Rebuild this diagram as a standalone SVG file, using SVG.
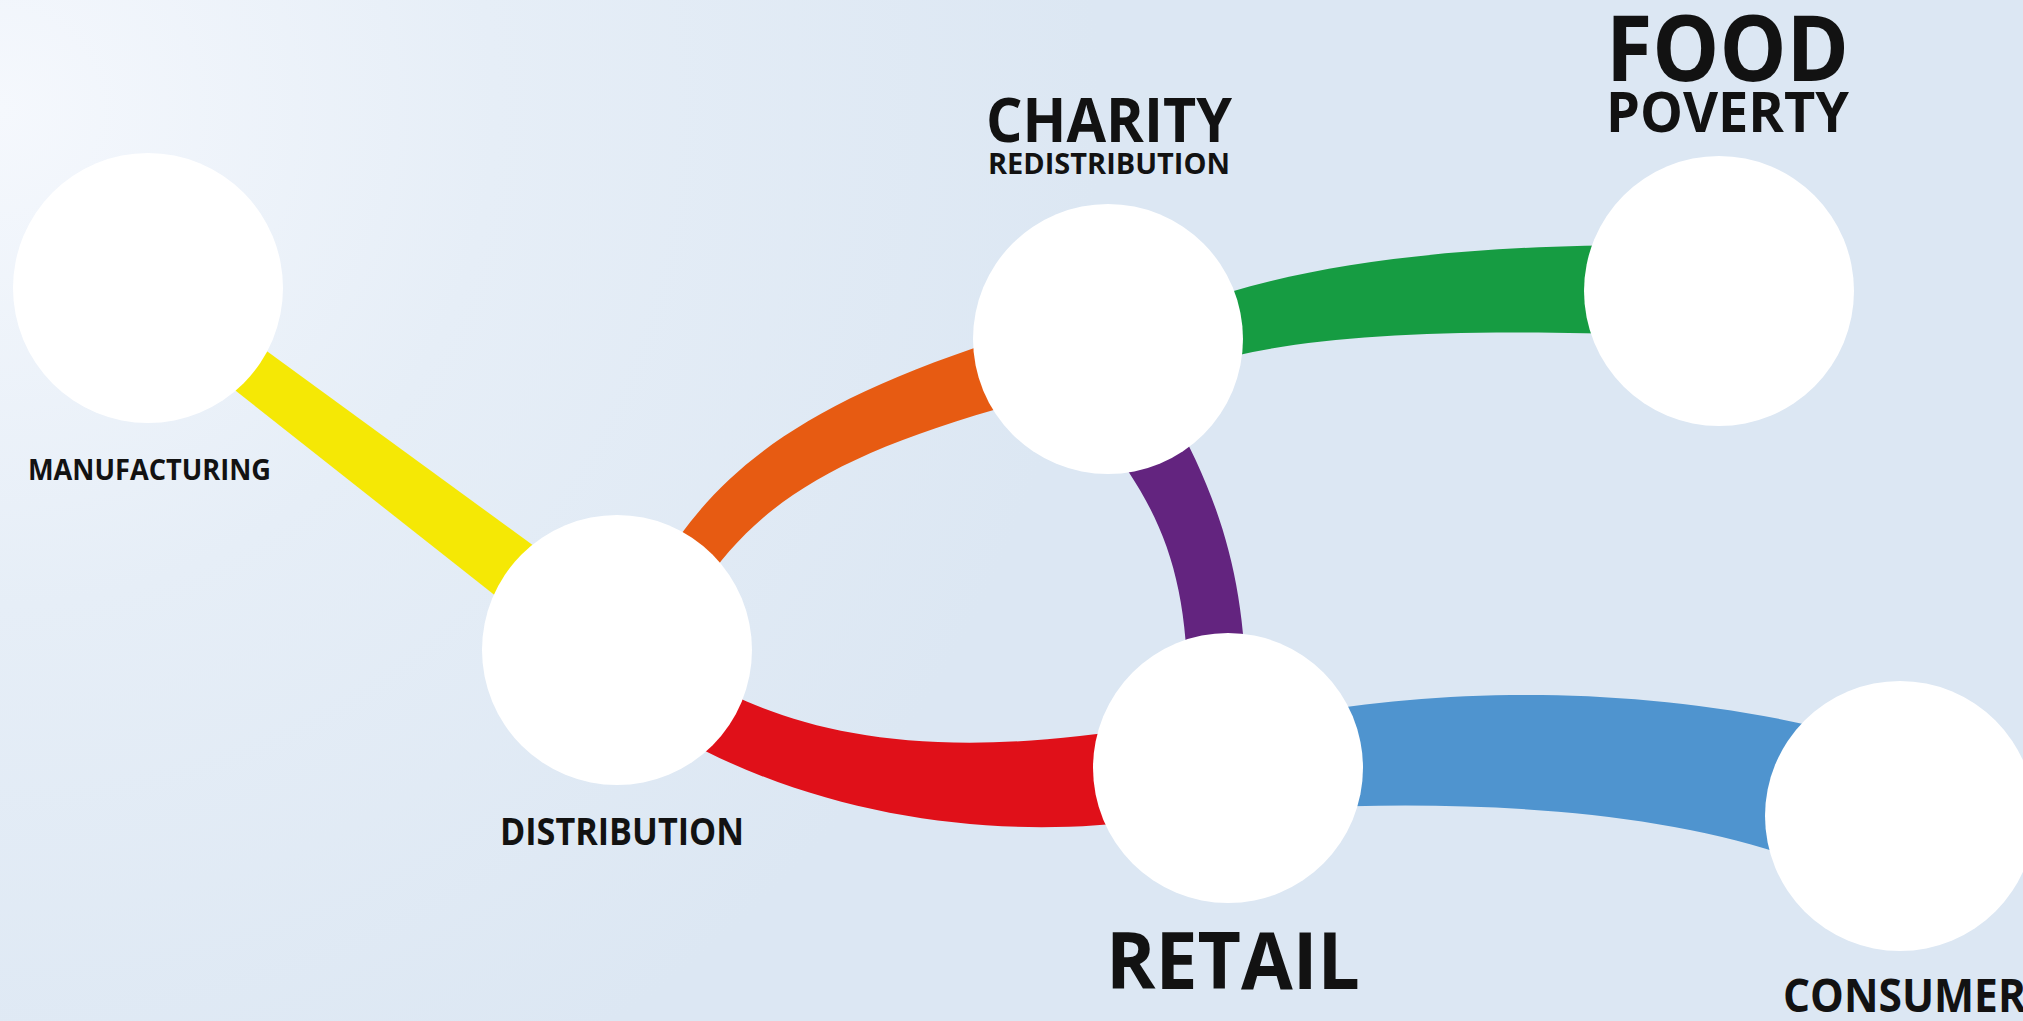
<svg xmlns="http://www.w3.org/2000/svg" width="2023" height="1021" viewBox="0 0 2023 1021">
  <defs>
    <radialGradient id="bg" cx="0" cy="110" r="1100" gradientUnits="userSpaceOnUse">
      <stop offset="0" stop-color="#f5f8fd"/>
      <stop offset="0.45" stop-color="#e6eef7"/>
      <stop offset="1" stop-color="#dce7f3"/>
    </radialGradient>
  </defs>
  <style>
    .node { fill: #ffffff; }
    .label { font-family: "Open Sans", "Liberation Sans", sans-serif; font-weight: 700; fill: #121212; }
    .yellow { fill: #f5e805; }
    .orange { fill: #e75b12; }
    .red { fill: #e01019; }
    .purple { fill: #63247f; }
    .green { fill: #169c42; }
    .blue { fill: #4f94cf; }
  </style>

  <rect x="0" y="0" width="2023" height="1021" fill="url(#bg)"/>

  <!-- links between the stages, drawn under the circles -->
  <g id="connectors">
    <path class="yellow" d="M190,295 L560,565 L540,631 L160,331 Z"/>
    <path class="orange" d="M660,565 C720,470 800,400 1030,330 L1040,397 C840,450 760,500 700,590 Z"/>
    <path class="red" d="M700,678 C790,730 920,765 1150,726 L1150,820 C1000,840 830,820 680,738 Z"/>
    <path class="purple" d="M1100,432 C1160,510 1188,570 1188,700 L1246,700 C1246,580 1220,500 1170,410 Z"/>
    <path class="green" d="M1190,305 C1300,265 1450,245 1650,245 L1650,335 C1440,328 1300,335 1200,365 Z"/>
    <path class="blue" d="M1300,714 C1450,688 1650,683 1850,735 L1820,868 C1680,810 1480,800 1300,808 Z"/>
  </g>

  <g id="manufacturing">
    <circle class="node" cx="148" cy="288" r="135"/>
    <text class="label" x="28" y="480" font-size="28" textLength="243" lengthAdjust="spacingAndGlyphs">MANUFACTURING</text>
  </g>

  <g id="distribution">
    <circle class="node" cx="617" cy="650" r="135"/>
    <text class="label" x="500" y="845" font-size="37" textLength="244" lengthAdjust="spacingAndGlyphs">DISTRIBUTION</text>
  </g>

  <g id="charity">
    <circle class="node" cx="1108" cy="339" r="135"/>
    <text class="label" x="986" y="142" font-size="61" textLength="246" lengthAdjust="spacingAndGlyphs">CHARITY</text>
    <text class="label" x="988" y="174" font-size="29" textLength="242" lengthAdjust="spacingAndGlyphs">REDISTRIBUTION</text>
  </g>

  <g id="food-poverty">
    <circle class="node" cx="1719" cy="291" r="135"/>
    <text class="label" x="1606" y="81" font-size="92" textLength="243" lengthAdjust="spacingAndGlyphs">FOOD</text>
    <text class="label" x="1606" y="132" font-size="56" textLength="243" lengthAdjust="spacingAndGlyphs">POVERTY</text>
  </g>

  <g id="retail">
    <circle class="node" cx="1228" cy="768" r="135"/>
    <text class="label" x="1106" y="989" font-size="78" textLength="254" lengthAdjust="spacingAndGlyphs">RETAIL</text>
  </g>

  <g id="consumer">
    <circle class="node" cx="1900" cy="816" r="135"/>
    <text class="label" x="1783" y="1012" font-size="47" textLength="243" lengthAdjust="spacingAndGlyphs">CONSUMER</text>
  </g>
</svg>
